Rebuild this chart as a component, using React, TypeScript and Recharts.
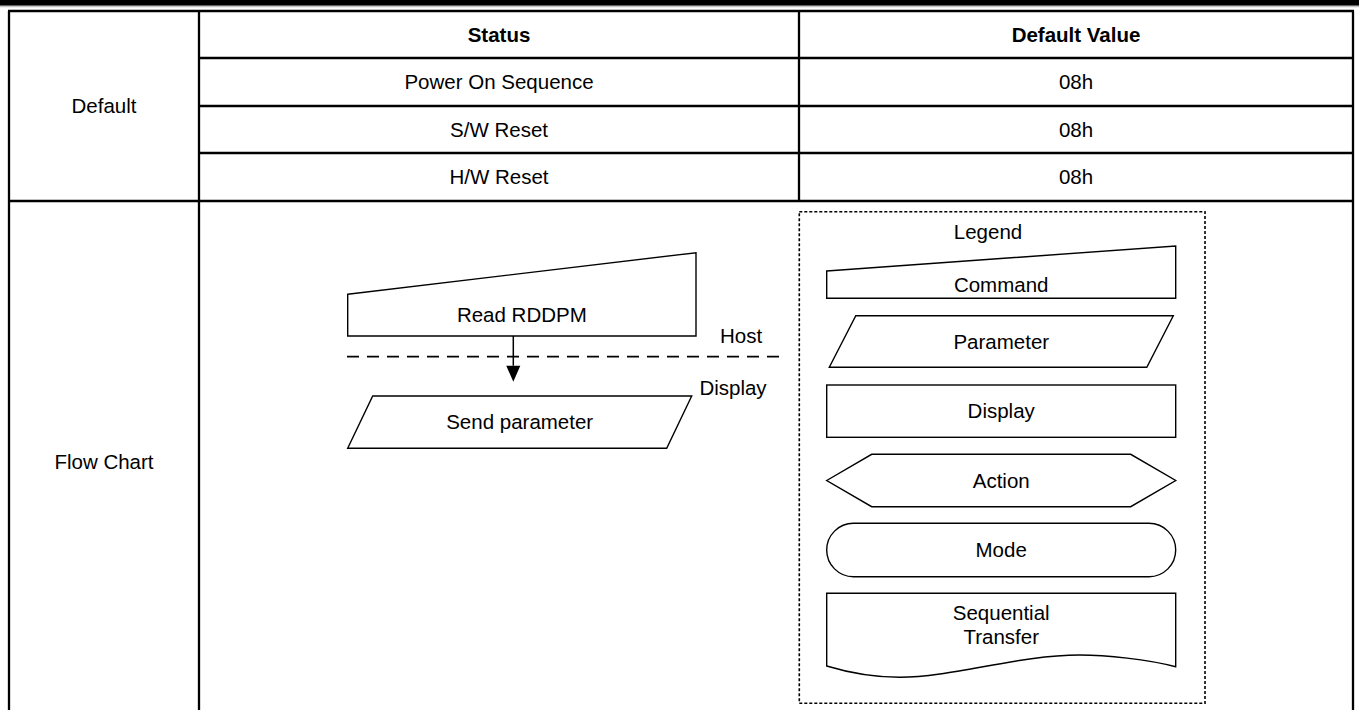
import React from "react";
import { ScatterChart, Scatter, XAxis, YAxis, ReferenceLine, ReferenceArea } from "recharts";

// table text
const headers = ["Status", "Default Value"];
const rowGroups = ["Default", "Flow Chart"];
const statuses = ["Power On Sequence", "S/W Reset", "H/W Reset"];
const defaultValues = ["08h", "08h", "08h"];

// flow chart text
const flowSteps = ["Read RDDPM", "Send parameter"];
const sideLabels = ["Host", "Display"];
const legendTitle = "Legend";
const legendItems = ["Command", "Parameter", "Display", "Action", "Mode", "Sequential Transfer"];
const legendKinds = ["command", "parameter", "display", "action", "mode", "sequential"];

// page layout (pixel space, axes are 1:1 with the page)
const W = 1359;
const H = 710;
const FONT = "'Liberation Sans', Arial, Helvetica, sans-serif";
const FS = 20.5;
const rowLines = [11, 58, 106, 153, 201];
const colLeft = 9;
const colGroup = 199;
const colSplit = 799;
const colRight = 1353;

const mid = (a: number, b: number) => (a + b) / 2;

const tableText = [
  ...headers.map((label, i) => ({
    x: i === 0 ? mid(colGroup, colSplit) : mid(colSplit, colRight),
    y: mid(rowLines[0], rowLines[1]),
    label,
    bold: true,
  })),
  ...statuses.map((label, i) => ({
    x: mid(colGroup, colSplit),
    y: mid(rowLines[i + 1], rowLines[i + 2]),
    label,
  })),
  ...defaultValues.map((label, i) => ({
    x: mid(colSplit, colRight),
    y: mid(rowLines[i + 1], rowLines[i + 2]),
    label,
  })),
  { x: mid(colLeft, colGroup), y: mid(rowLines[0], rowLines[4]), label: rowGroups[0] },
  { x: mid(colLeft, colGroup), y: 462, label: rowGroups[1] },
  { x: 741, y: 336, label: sideLabels[0] },
  { x: 733, y: 388, label: sideLabels[1] },
  { x: 988, y: 232, label: legendTitle },
];

const flowBoxes = [
  { kind: "command", l: 347.7, t: 252.7, w: 348.3, h: 83.3, cut: 41.6 },
  { kind: "parameter", l: 347.7, t: 396, w: 344, h: 52.3, cut: 25 },
];
const legendBoxes = [
  { l: 826.7, t: 246, w: 349, h: 52.3, cut: 25 },
  { l: 829.3, t: 315.7, w: 344, h: 51.6, cut: 26.5 },
  { l: 826.7, t: 385, w: 349, h: 52.3, cut: 0 },
  { l: 826.7, t: 454.3, w: 349, h: 52.4, cut: 45 },
  { l: 826.7, t: 523.3, w: 349, h: 53.4, cut: 0 },
  { l: 826.7, t: 593.3, w: 349, h: 84, cut: 0 },
];

const flowShapes = [
  ...flowBoxes.map((b, i) => ({ ...b, x: b.l + b.w / 2, y: b.t + b.h / 2, label: flowSteps[i] })),
  ...legendBoxes.map((b, i) => ({
    ...b,
    kind: legendKinds[i],
    x: b.l + b.w / 2,
    y: b.t + b.h / 2,
    label: legendItems[i],
  })),
];

const arrowPoints = [{ x: 513.3, y: 336, len: 45.7, head: 16, half: 7 }];

const Label = ({ x, y, text, bold }: { x: number; y: number; text: string; bold?: boolean }) => (
  <text
    x={x}
    y={y}
    dy="0.35em"
    textAnchor="middle"
    fontFamily={FONT}
    fontSize={FS}
    fontWeight={bold ? 700 : 400}
    fill="#000"
    stroke="none"
  >
    {text}
  </text>
);

const TextMark = (props: any) => {
  const { cx, cy, payload } = props;
  return <Label x={cx} y={cy} text={payload.label} bold={payload.bold} />;
};

const ShapeMark = (props: any) => {
  const { cx, cy, payload } = props;
  const { kind, w, h, cut, label } = payload;
  const l = cx - w / 2;
  const r = cx + w / 2;
  const t = cy - h / 2;
  const b = cy + h / 2;
  const line = { fill: "none", stroke: "#000", strokeWidth: 1.4 };
  let body: React.ReactNode = null;
  let text: React.ReactNode = <Label x={cx} y={cy} text={label} />;

  if (kind === "command") {
    body = <path d={`M${l},${t + cut}L${r},${t}L${r},${b}L${l},${b}Z`} {...line} />;
    text = <Label x={cx} y={(t + cut + b) / 2} text={label} />;
  } else if (kind === "parameter") {
    body = <path d={`M${l + cut},${t}L${r},${t}L${r - cut},${b}L${l},${b}Z`} {...line} />;
  } else if (kind === "display") {
    body = <rect x={l} y={t} width={w} height={h} {...line} />;
  } else if (kind === "action") {
    body = (
      <path
        d={`M${l},${cy}L${l + cut},${t}L${r - cut},${t}L${r},${cy}L${r - cut},${b}L${l + cut},${b}Z`}
        {...line}
      />
    );
  } else if (kind === "mode") {
    body = <rect x={l} y={t} width={w} height={h} rx={h / 2} ry={h / 2} {...line} />;
  } else if (kind === "sequential") {
    body = (
      <path
        d={`M${l},${t}L${r},${t}L${r},${b - 10.6}` +
          `C${r - 0.08 * w},${b - 18} ${l + 0.8 * w},${b - 22.3} ${l + 0.725 * w},${b - 22.3}` +
          `C${l + 0.55 * w},${b - 22.3} ${l + 0.36 * w},${b} ${l + 0.21 * w},${b}` +
          `C${l + 0.12 * w},${b} ${l + 0.05 * w},${b - 6} ${l},${b - 11.3}Z`}
        {...line}
      />
    );
    const words = String(label).split(" ");
    text = (
      <g>
        <Label x={cx} y={t + 20} text={words[0]} />
        <Label x={cx} y={t + 44} text={words[1]} />
      </g>
    );
  }
  return (
    <g>
      {body}
      {text}
    </g>
  );
};

const ArrowMark = (props: any) => {
  const { cx, cy, payload } = props;
  const tip = cy + payload.len;
  const base = tip - payload.head;
  return (
    <g>
      <line x1={cx} y1={cy} x2={cx} y2={base} stroke="#000" strokeWidth={1.5} />
      <path d={`M${cx - payload.half},${base}L${cx + payload.half},${base}L${cx},${tip}Z`} fill="#000" />
    </g>
  );
};

const seg = (x1: number, y1: number, x2: number, y2: number) => [
  { x: x1, y: y1 },
  { x: x2, y: y2 },
];

const tableLines = [
  seg(colLeft - 1, rowLines[0], colRight + 1, rowLines[0]),
  seg(colGroup, rowLines[1], colRight + 1, rowLines[1]),
  seg(colGroup, rowLines[2], colRight + 1, rowLines[2]),
  seg(colGroup, rowLines[3], colRight + 1, rowLines[3]),
  seg(colLeft - 1, rowLines[4], colRight + 1, rowLines[4]),
  seg(colLeft, rowLines[0], colLeft, H),
  seg(colGroup, rowLines[0], colGroup, H),
  seg(colSplit, rowLines[0], colSplit, rowLines[4]),
  seg(colRight, rowLines[0], colRight, H),
];

export default function App() {
  return (
    <div style={{ position: "fixed", left: 0, top: 0, width: W, height: H, background: "#fff" }}>
      <ScatterChart width={W} height={H} margin={{ top: 0, right: 0, bottom: 0, left: 0 }}>
        <XAxis type="number" dataKey="x" domain={[0, W]} allowDataOverflow hide />
        <YAxis type="number" dataKey="y" domain={[0, H]} reversed allowDataOverflow hide />

        <ReferenceArea x1={0} x2={W} y1={0} y2={5.8} fill="#000" fillOpacity={1} stroke="none" />
        <ReferenceLine y={6.6} stroke="#c4c4c4" strokeWidth={1.5} />

        {tableLines.map((s, i) => (
          <ReferenceLine key={i} segment={s} stroke="#000" strokeWidth={2.3} />
        ))}

        <ReferenceArea
          x1={799.3}
          x2={1205}
          y1={211.7}
          y2={703.3}
          fill="none"
          fillOpacity={0}
          stroke="#000"
          strokeWidth={1.6}
          strokeDasharray="3 2"
        />
        <ReferenceLine segment={seg(347, 356.7, 787, 356.7)} stroke="#000" strokeWidth={1.7} strokeDasharray="12 8" />

        <Scatter data={tableText} shape={TextMark} isAnimationActive={false} />
        <Scatter data={flowShapes} shape={ShapeMark} isAnimationActive={false} />
        <Scatter data={arrowPoints} shape={ArrowMark} isAnimationActive={false} />
      </ScatterChart>
    </div>
  );
}
